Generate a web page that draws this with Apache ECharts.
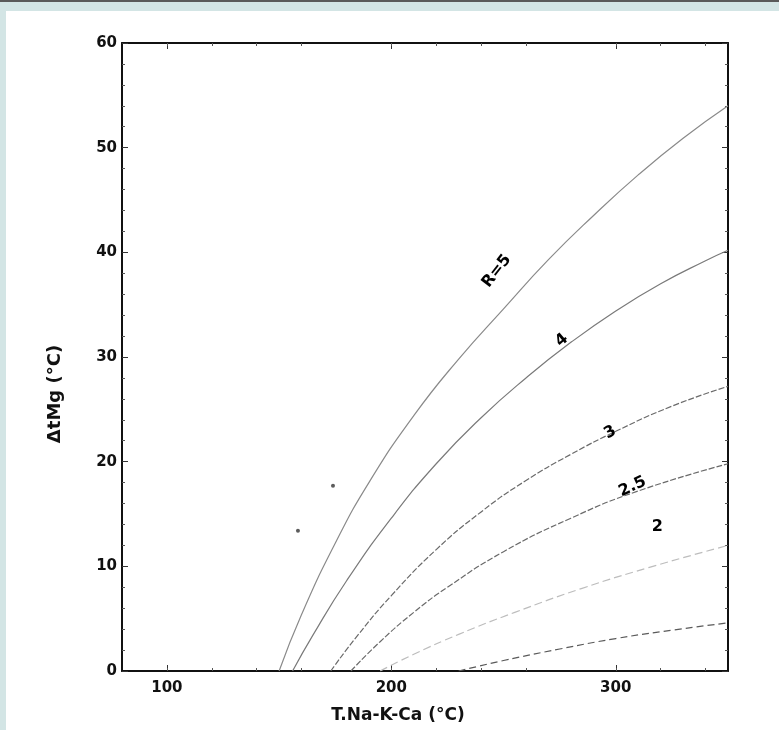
<!DOCTYPE html>
<html lang="en">
<head>
	<meta charset="UTF-8">
	<title>Mg correction</title>
	<style>
		body{
			margin: 0;
			background: #d3e5e5;
		}
		#bar{
			position: absolute;
			left: 0;
			top: 0;
			width: 779px;
			height: 2px;
			background: #5a5a5a;
		}
		#main{
			position: absolute;
			left: 6px;
			top: 11px;
			width: 773px;
			height: 719px;
			background: #fff;
		}
	</style>
	<script src="https://cdn.jsdelivr.net/npm/echarts@6/dist/echarts.min.js"></script>
</head>
<body>
	<div id="bar"></div>
	<div id="main"></div>

	<script>
		// curves: [T Na-K-Ca, dT Mg]
		var r5 = [[150,0],[160,5.4],[175,12.2],[190,18],[210,24.4],[230,29.8],[250,34.6],[270,39.3],[290,43.5],[310,47.4],[330,50.9],[350,54]];
		var r4 = [[156,0],[165,3.4],[180,8.6],[200,14.6],[220,19.8],[240,24.2],[260,28],[280,31.4],[300,34.4],[320,37],[340,39.2],[350,40.2]];
		var r3 = [[173,0],[185,3.4],[200,7.2],[220,11.6],[240,15.2],[260,18.2],[280,20.7],[300,22.9],[325,25.3],[350,27.2]];
		var r25 = [[182,0],[195,2.8],[210,5.6],[225,8],[250,11.4],[280,14.6],[310,17.2],[350,19.8]];
		var r2 = [[195,0],[210,1.6],[230,3.5],[255,5.6],[285,7.9],[315,9.9],[350,12]];
		var r15 = [[230,0],[250,1],[275,2.1],[300,3.1],[325,3.9],[350,4.6]];

		// two isolated points
		var dots = [[158.4,13.4],[174,17.7]];

		// curve labels
		var labelText = ['R=5','4','3','2.5','2'];
		var labelX = [247,276,297.5,307.5,318.5];
		var labelY = [38.2,31.6,22.8,17.6,13.8];
		var labelRotate = [52,40,30,25,0];

		var yTicks = [0,10,20,30,40,50,60];
		var xTicks = [100,200,300];

		var myChart = echarts.init(document.getElementById('main'));

		var font = '"DejaVu Sans", "Liberation Sans", sans-serif';

		function curve(name, data, color, type, width){
			return {
				name: name,
				type: 'line',
				data: data,
				smooth: true,
				symbol: 'none',
				lineStyle: {color: color, width: width, type: type},
				z: 3
			};
		}

		// labels sit on the first curve as mark points
		var labelPoints = labelText.map(function(t, i){
			return {
				coord: [labelX[i], labelY[i]],
				label: {formatter: t, rotate: labelRotate[i]}
			};
		});

		var frameLine = {show: true, onZero: false, lineStyle: {color: '#111', width: 2}};
		var frameTick = {show: true, inside: true, length: 6, lineStyle: {color: '#333', width: 1}};
		var frameMinor = {show: true, splitNumber: 5, length: 3, lineStyle: {color: '#555', width: 1}};

		var r5Series = curve('R=5', r5, '#8a8a8a', 'solid', 1.2);
		r5Series.markPoint = {
			symbol: 'circle',
			symbolSize: 1,
			itemStyle: {color: 'rgba(0,0,0,0)'},
			label: {
				show: true, position: 'inside', color: '#000',
				fontSize: 16, fontWeight: 'bold', fontFamily: font
			},
			data: labelPoints
		};

		var option = {
			animation: false,
			grid: {left: 116, right: 51, top: 32, bottom: 59},
			xAxis: [
				{
					type: 'value', min: 80, max: 350, interval: 100,
					axisLine: frameLine,
					axisTick: {show: true, inside: true, length: 6, customValues: xTicks, lineStyle: {color: '#333'}},
					minorTick: frameMinor,
					splitLine: {show: false},
					axisLabel: {
						margin: 10, color: '#111', fontSize: 15, fontWeight: 'bold', fontFamily: font,
						customValues: xTicks
					}
				},
				{
					type: 'value', min: 80, max: 350, interval: 100, position: 'top',
					axisLine: frameLine,
					axisTick: {show: true, inside: true, length: 6, customValues: xTicks, lineStyle: {color: '#333'}},
					minorTick: frameMinor,
					splitLine: {show: false},
					axisLabel: {show: false}
				}
			],
			yAxis: [
				{
					type: 'value', min: 0, max: 60, interval: 10,
					axisLine: frameLine,
					axisTick: frameTick,
					minorTick: frameMinor,
					splitLine: {show: false},
					axisLabel: {
						margin: 5, color: '#111', fontSize: 15, fontWeight: 'bold', fontFamily: font,
						customValues: yTicks
					}
				},
				{
					type: 'value', min: 0, max: 60, interval: 10, position: 'right',
					axisLine: frameLine,
					axisTick: frameTick,
					minorTick: frameMinor,
					splitLine: {show: false},
					axisLabel: {show: false}
				}
			],
			graphic: [
				{
					type: 'text', x: 49, y: 383, rotation: Math.PI / 2,
					style: {
						text: 'ΔtMg (°C)', fill: '#111', font: 'bold 18px ' + font,
						align: 'center', verticalAlign: 'middle'
					}
				},
				{
					type: 'text', x: 392, y: 705,
					style: {
						text: 'T.Na-K-Ca (°C)', fill: '#111', font: 'bold 17px ' + font,
						align: 'center', verticalAlign: 'middle'
					}
				}
			],
			series: [
				r5Series,
				curve('4', r4, '#7a7a7a', 'solid', 1.2),
				curve('3', r3, '#6a6a6a', [6,2], 1.2),
				curve('2.5', r25, '#6a6a6a', [6,2], 1.2),
				curve('2', r2, '#bdbdbd', [8,4], 1.2),
				curve('1.5', r15, '#5a5a5a', [7,4], 1.2),
				{
					type: 'scatter',
					data: dots,
					symbolSize: 4,
					itemStyle: {color: '#333'},
					z: 4
				}
			]
		};

		myChart.setOption(option);
	</script>
</body>
</html>
